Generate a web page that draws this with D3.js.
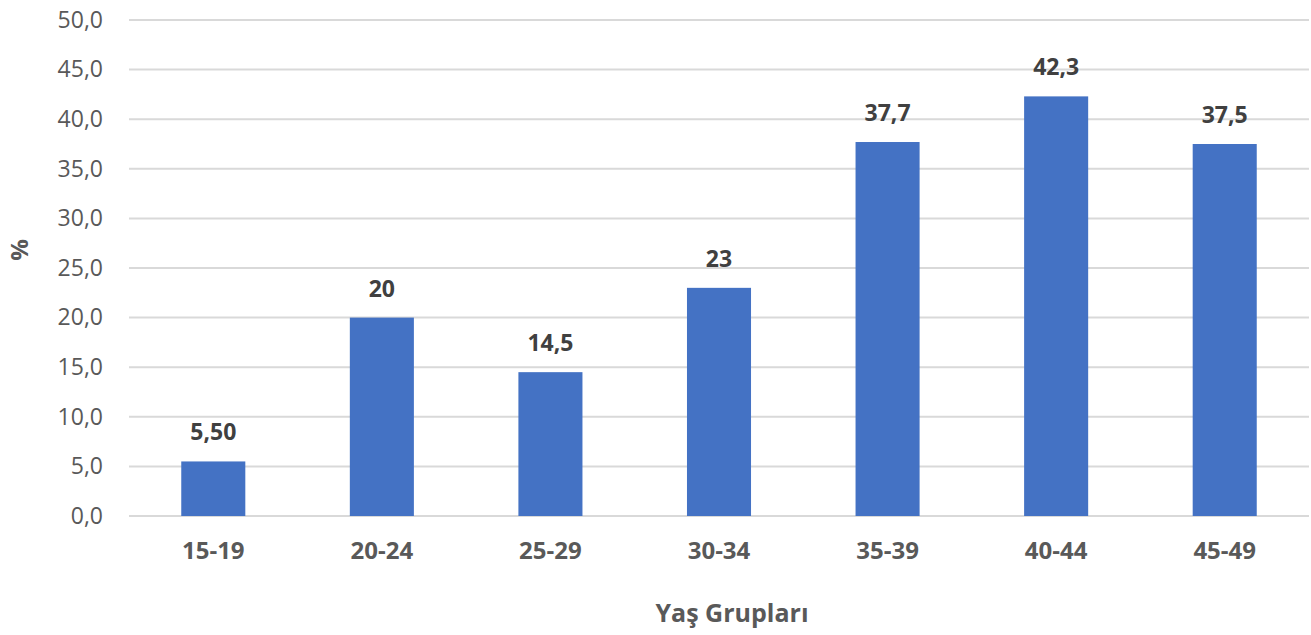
<!DOCTYPE html>
<html><head><meta charset="utf-8">
<script src="https://cdn.jsdelivr.net/npm/d3@7"></script>
<style>body{margin:0;background:#fff;} text{font-family:"Open Sans","Noto Sans",sans-serif;}</style>
</head><body>
<svg id="c" width="1311" height="635"></svg>
<script>
const categories = ["15-19","20-24","25-29","30-34","35-39","40-44","45-49"];
const values = [5.5, 20, 14.5, 23, 37.7, 42.3, 37.5];
const valueLabels = ["5,50","20","14,5","23","37,7","42,3","37,5"];
const yTicks = [0,5,10,15,20,25,30,35,40,45,50];
const yTitle = "%";
const xTitle = "Yaş Grupları";

(function(){
const svg = d3.select("#c");
const mLeft = 129, mRight = 1309, mTop = 20, mBottom = 516;
const x = d3.scaleBand().domain(categories).range([mLeft, mRight]).paddingInner(0.62).paddingOuter(0.31);
const y = d3.scaleLinear().domain([0, 50]).range([mBottom, mTop]);
const fmt = d => d.toFixed(1).replace(".", ",");

svg.append("g").selectAll("line").data(yTicks).join("line")
  .attr("x1", mLeft).attr("x2", mRight)
  .attr("y1", d => y(d)).attr("y2", d => y(d))
  .attr("stroke", "#d9d9d9").attr("stroke-width", 2);

const yAxis = d3.axisLeft(y).tickValues(yTicks).tickFormat(fmt).tickSize(0).tickPadding(26);
const ya = svg.append("g").attr("transform", `translate(${mLeft},0)`).call(yAxis);
ya.select(".domain").remove();
ya.selectAll("text").attr("fill", "#595959").style("font-size", "23px").style("font-family", '"Open Sans","Noto Sans",sans-serif');

svg.append("g").selectAll("rect").data(values).join("rect")
  .attr("x", (d, i) => x(categories[i]))
  .attr("width", x.bandwidth())
  .attr("y", d => y(d))
  .attr("height", d => y(0) - y(d))
  .attr("fill", "#4472c4");

svg.append("g").selectAll("text").data(values).join("text")
  .attr("x", (d, i) => x(categories[i]) + x.bandwidth() / 2)
  .attr("y", d => y(d) - 21)
  .attr("text-anchor", "middle")
  .attr("fill", "#404040").attr("font-weight", "bold").style("font-size", "23px")
  .text((d, i) => valueLabels[i]);

const xAxis = d3.axisBottom(x).tickSize(0).tickPadding(26);
const xa = svg.append("g").attr("transform", `translate(0,${mBottom})`).call(xAxis);
xa.select(".domain").remove();
xa.selectAll("text").attr("fill", "#595959").attr("font-weight", "bold").style("font-size", "24px").style("font-family", '"Open Sans","Noto Sans",sans-serif');

svg.append("text").attr("x", 732).attr("y", 622).attr("text-anchor", "middle")
  .attr("fill", "#595959").attr("font-weight", "bold").style("font-size", "25px").text(xTitle);
svg.append("text").attr("transform", "translate(28,250) rotate(-90)").attr("text-anchor", "middle")
  .attr("fill", "#595959").attr("font-weight", "bold").style("font-size", "24px").text(yTitle);
})();
</script>
</body></html>
